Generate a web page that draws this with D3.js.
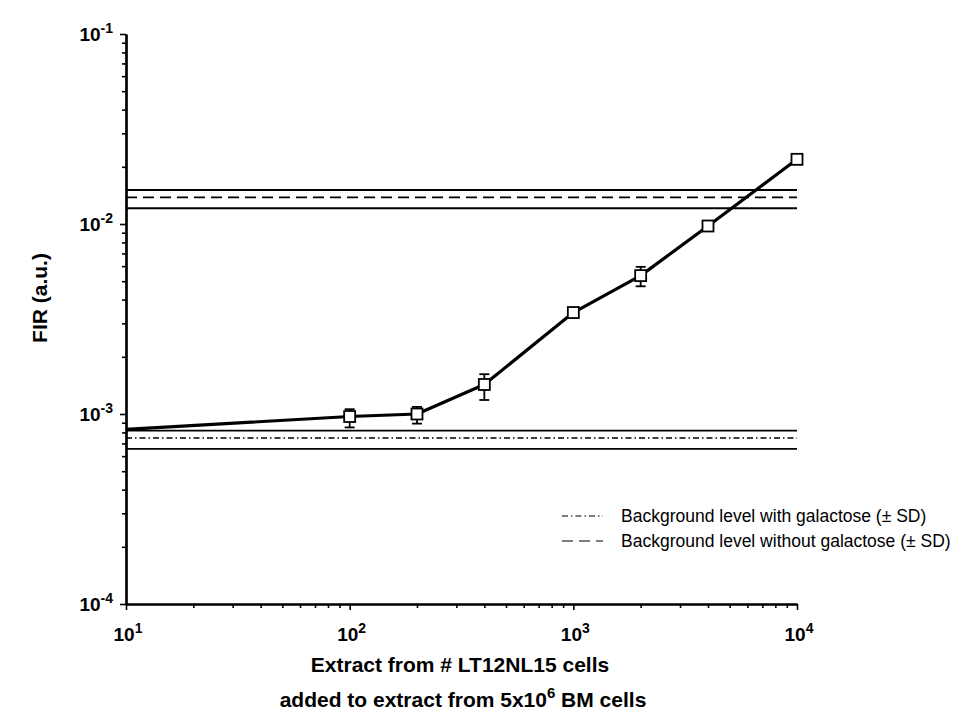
<!DOCTYPE html>
<html>
<head>
<meta charset="utf-8">
<script src="https://cdn.jsdelivr.net/npm/d3@7/dist/d3.min.js"></script>
<style>
  html, body { margin: 0; padding: 0; background: #fff; }
  svg { display: block; font-family: "Liberation Sans", Arial, Helvetica, sans-serif; }
</style>
</head>
<body>
<svg id="chart" width="966" height="715"></svg>
<script>
// Number of LT12NL15 cells whose extract was added
const cellCounts = [100, 200, 400, 1000, 2000, 4000, 10000];
// Measured FIR (a.u.) and the ends of each error bar
const firMean = [9.7e-4, 1.0e-3, 1.43e-3, 3.42e-3, 5.35e-3, 9.76e-3, 2.19e-2];
const firLow  = [8.5e-4, 8.9e-4, 1.185e-3, 3.32e-3, 4.7e-3, 9.6e-3, 2.16e-2];
const firHigh = [1.06e-3, 1.09e-3, 1.62e-3, 3.52e-3, 5.95e-3, 9.9e-3, 2.22e-2];
// Fitted curve through the series, starting at the left edge of the axis
const curveX = [10, 100, 200, 400, 1000, 2000, 4000, 10000];
const curveY = [8.3e-4, 9.7e-4, 1.0e-3, 1.43e-3, 3.42e-3, 5.35e-3, 9.76e-3, 2.19e-2];
// Background levels: mean and ±SD
const bgWithGal    = { mean: 7.48e-4, low: 6.55e-4, high: 8.17e-4 };
const bgWithoutGal = { mean: 1.38e-2, low: 1.21e-2, high: 1.51e-2 };
// Axis decades
const xTickExps = [1, 2, 3, 4];
const yTickExps = [-4, -3, -2, -1];
const legendLabels = ["Background level with galactose (\u00b1 SD)",
                      "Background level without galactose (\u00b1 SD)"];

const svg = d3.select("#chart");
const plotL = 126, plotR = 797, plotT = 34, plotB = 604;

const x = d3.scaleLog().domain([10, 1e4]).range([plotL, plotR]);
const y = d3.scaleLog().domain([1e-4, 1e-1]).range([plotB, plotT]);

// Minor ticks (2..9 per decade)
const minorX = [], minorY = [];
for (let e = 1; e < 4; e++) for (let m = 2; m <= 9; m++) minorX.push(m * Math.pow(10, e));
for (let e = -4; e < -1; e++) for (let m = 2; m <= 9; m++) minorY.push(m * Math.pow(10, e));

// Axes
const xAxis = svg.append("g").attr("transform", `translate(0,${plotB})`)
  .call(d3.axisBottom(x).tickValues(xTickExps.map(e => Math.pow(10, e))).tickFormat("").tickSize(6).tickSizeOuter(0));
const xMinor = svg.append("g").attr("transform", `translate(0,${plotB})`)
  .call(d3.axisBottom(x).tickValues(minorX).tickFormat("").tickSize(4).tickSizeOuter(0));
const yAxis = svg.append("g").attr("transform", `translate(${plotL},0)`)
  .call(d3.axisLeft(y).tickValues(yTickExps.map(e => Math.pow(10, e))).tickFormat("").tickSize(6).tickSizeOuter(0));
const yMinor = svg.append("g").attr("transform", `translate(${plotL},0)`)
  .call(d3.axisLeft(y).tickValues(minorY).tickFormat("").tickSize(4).tickSizeOuter(0));
[xAxis, xMinor, yAxis, yMinor].forEach(g => {
  g.selectAll("path.domain").attr("stroke", "#000").attr("stroke-width", 2.2);
  g.selectAll(".tick line").attr("stroke", "#000").attr("stroke-width", 1.6);
});

// Tick labels written as powers of ten
const xLab = svg.append("g").selectAll("text").data(xTickExps).join("text")
  .attr("x", d => x(Math.pow(10, d)) + 2).attr("y", 641)
  .attr("text-anchor", "middle").attr("font-size", 19).attr("font-weight", "bold");
xLab.append("tspan").text("10");
xLab.append("tspan").attr("dy", -8).attr("font-size", 14).text(d => d);

const yLab = svg.append("g").selectAll("text").data(yTickExps).join("text")
  .attr("x", 113).attr("y", d => y(Math.pow(10, d)) + 7)
  .attr("text-anchor", "end").attr("font-size", 19).attr("font-weight", "bold");
yLab.append("tspan").text("10");
yLab.append("tspan").attr("dy", -8).attr("font-size", 14).text(d => d);

// Background bands
const bandStyles = [
  { bg: bgWithGal, dash: "6,3,1.5,3" },
  { bg: bgWithoutGal, dash: "11,6" }
];
bandStyles.forEach(s => {
  [s.bg.low, s.bg.high].forEach(v => {
    svg.append("line").attr("x1", x(10)).attr("x2", x(1e4))
      .attr("y1", y(v)).attr("y2", y(v))
      .attr("stroke", "#000").attr("stroke-width", 1.8);
  });
  svg.append("line").attr("x1", x(10)).attr("x2", x(1e4))
    .attr("y1", y(s.bg.mean)).attr("y2", y(s.bg.mean))
    .attr("stroke", "#000").attr("stroke-width", 1.6)
    .attr("stroke-dasharray", s.dash);
});

// Curve
const line = d3.line().x(d => x(d[0])).y(d => y(d[1]));
svg.append("path").datum(d3.zip(curveX, curveY))
  .attr("d", line).attr("fill", "none").attr("stroke", "#000")
  .attr("stroke-width", 3.2).attr("stroke-linejoin", "round");

// Error bars
const pts = cellCounts.map((c, i) => ({ c, m: firMean[i], lo: firLow[i], hi: firHigh[i] }));
const eb = svg.append("g").attr("stroke", "#000").attr("stroke-width", 1.8);
pts.forEach(p => {
  const cx = x(p.c);
  eb.append("line").attr("x1", cx).attr("x2", cx).attr("y1", y(p.lo)).attr("y2", y(p.hi));
  if (y(p.lo) - y(p.hi) > 14) {
    [p.lo, p.hi].forEach(v => eb.append("line").attr("x1", cx - 5).attr("x2", cx + 5)
      .attr("y1", y(v)).attr("y2", y(v)));
  }
});

// Square markers
svg.append("g").selectAll("rect").data(pts).join("rect")
  .attr("x", d => x(d.c) - 5.5).attr("y", d => y(d.m) - 5.5)
  .attr("width", 11).attr("height", 11)
  .attr("fill", "#fff").attr("stroke", "#000").attr("stroke-width", 1.8);

// Legend
const legend = svg.append("g");
legendLabels.forEach((t, i) => {
  const ly = 516 + i * 25;
  legend.append("line").attr("x1", 562).attr("x2", 603).attr("y1", ly).attr("y2", ly)
    .attr("stroke", "#000").attr("stroke-width", 1.2)
    .attr("stroke-dasharray", bandStyles[i].dash);
  legend.append("text").attr("x", 621).attr("y", ly + 6).attr("font-size", 17.5).text(t);
});

// Axis titles
svg.append("text").attr("transform", "translate(47,298) rotate(-90)")
  .attr("text-anchor", "middle").attr("font-size", 21).attr("font-weight", "bold")
  .text("FIR (a.u.)");
svg.append("text").attr("x", 460).attr("y", 672).attr("text-anchor", "middle")
  .attr("font-size", 21).attr("font-weight", "bold").text("Extract from # LT12NL15 cells");
const t2 = svg.append("text").attr("x", 463).attr("y", 707).attr("text-anchor", "middle")
  .attr("font-size", 21).attr("font-weight", "bold");
t2.append("tspan").text("added to extract from 5x10");
t2.append("tspan").attr("dy", -9).attr("font-size", 15).text("6");
t2.append("tspan").attr("dy", 9).text(" BM cells");
</script>
</body>
</html>
